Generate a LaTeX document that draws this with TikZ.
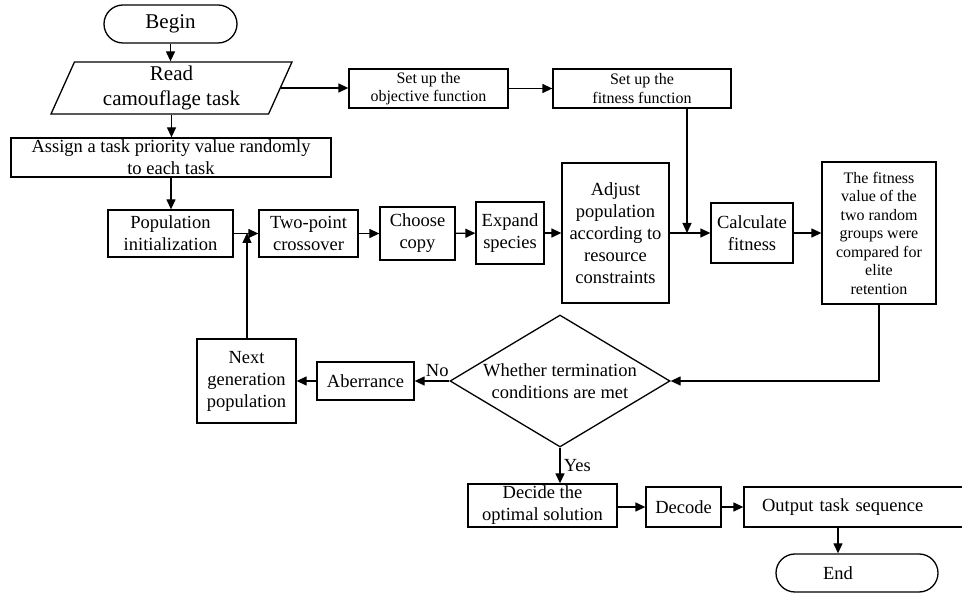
\documentclass[tikz,border=0pt]{standalone}
\usepackage{fontspec}
\setmainfont{Liberation Serif}
\usetikzlibrary{shapes.geometric,arrows.meta}

\begin{document}
\begin{tikzpicture}[x=1pt,y=-1pt,
  every node/.style={font=\fontsize{18.5}{22}\selectfont},
  box/.style={draw,line width=1.3pt,align=center,inner sep=0pt},
  smallbox/.style={box,font=\fontsize{16}{18.5}\selectfont},
  term/.style={box,rounded corners=19pt},
  link/.style={line width=1.3pt,-{Triangle[length=10pt,width=9pt]}}]
\clip (0,0) rectangle (962,593);
\node[term,minimum width=133pt,minimum height=38pt,font=\fontsize{21}{24}\selectfont] (begin) at (170.5,24) {Begin};
\node[box,trapezium,trapezium left angle=62,trapezium right angle=118,trapezium stretches body,minimum width=241pt,minimum height=52pt,font=\fontsize{21}{25}\selectfont] (read) at (171.5,88) {Read\\camouflage task};
\node[smallbox,minimum width=159pt,minimum height=39pt] (objfun) at (428.5,88.5) {Set up the\\objective function};
\node[smallbox,minimum width=178pt,minimum height=39pt] (fitfun) at (642,88.5) {Set up the\\fitness function};
\node[box,minimum width=320pt,minimum height=39pt] (assign) at (171,157.5) {Assign a task priority value randomly\\to each task};
\node[box,minimum width=125pt,minimum height=47pt] (popinit) at (170.5,233.5) {Population\\initialization};
\node[box,minimum width=99pt,minimum height=47pt] (cross) at (308.5,233.5) {Two-point\\crossover};
\node[box,minimum width=75pt,minimum height=53pt] (choose) at (417.5,233.5) {Choose\\copy};
\node[box,minimum width=68pt,minimum height=62pt] (expand) at (510,233) {Expand\\species};
\node[box,minimum width=107pt,minimum height=140pt] (adjust) at (615.5,233) {Adjust\\population\\according to\\resource\\constraints};
\node[box,minimum width=82pt,minimum height=60pt] (calc) at (752,233) {Calculate\\fitness};
\node[smallbox,minimum width=114pt,minimum height=142pt] (elite) at (879,233) {The fitness\\value of the\\two random\\groups were\\compared for\\elite\\retention};
\node[box,diamond,minimum width=220pt,minimum height=132pt,label={[align=center]center:Whether termination\\conditions are met}] (judge) at (560,381) {};
\node[box,minimum width=97pt,minimum height=38pt] (aberr) at (365.5,381) {Aberrance};
\node[box,minimum width=99pt,minimum height=84pt] (nextgen) at (246.5,381) {Next\\generation\\population};
\node[box,minimum width=149pt,minimum height=43pt] (decide) at (542.5,505.5) {Decide the\\optimal solution};
\node[box,minimum width=75pt,minimum height=40pt] (decode) at (683.5,507) {Decode};
\node[box,minimum width=226pt,minimum height=40pt,text width=190pt,inner xsep=18pt,align=left] (output) at (857,507) {Output task sequence};
\node[term,minimum width=162pt,minimum height=38pt,text width=68pt,inner xsep=47pt,align=left] (finish) at (857,573) {End};
\coordinate (join) at (687,233);
\coordinate (merge) at (247,233);
\coordinate (drop) at (838,527);
\draw[link] (begin.south) -- (begin.south |- read.north);
\draw[link] (read.east) -- (read.east -| objfun.west);
\draw[link] (objfun) -- (fitfun);
\draw[link] (read.south) -- (read.south |- assign.north);
\draw[link] (assign.south) -- (assign.south |- popinit.north);
\draw[link] (popinit) -- (cross);
\draw[link] (cross) -- (choose);
\draw[link] (choose) -- (expand);
\draw[link] (expand) -- (adjust);
\draw[link] (adjust) -- (calc);
\draw[link] (fitfun.south -| join) -- (join);
\draw[link] (calc) -- (elite);
\draw[link] (elite.south) |- (judge.east);
\draw[link] (judge.west) -- node[above,pos=0.35] {No} (aberr.east);
\draw[link] (aberr) -- (nextgen);
\draw[link] (nextgen.north -| merge) -- (merge);
\draw[link] (judge.south) -- node[right] {Yes} (judge.south |- decide.north);
\draw[link] (decide.east |- decode.west) -- (decode.west);
\draw[link] (decode) -- (output);
\draw[link] (drop) -- (drop |- finish.north);
\end{tikzpicture}
\end{document}
